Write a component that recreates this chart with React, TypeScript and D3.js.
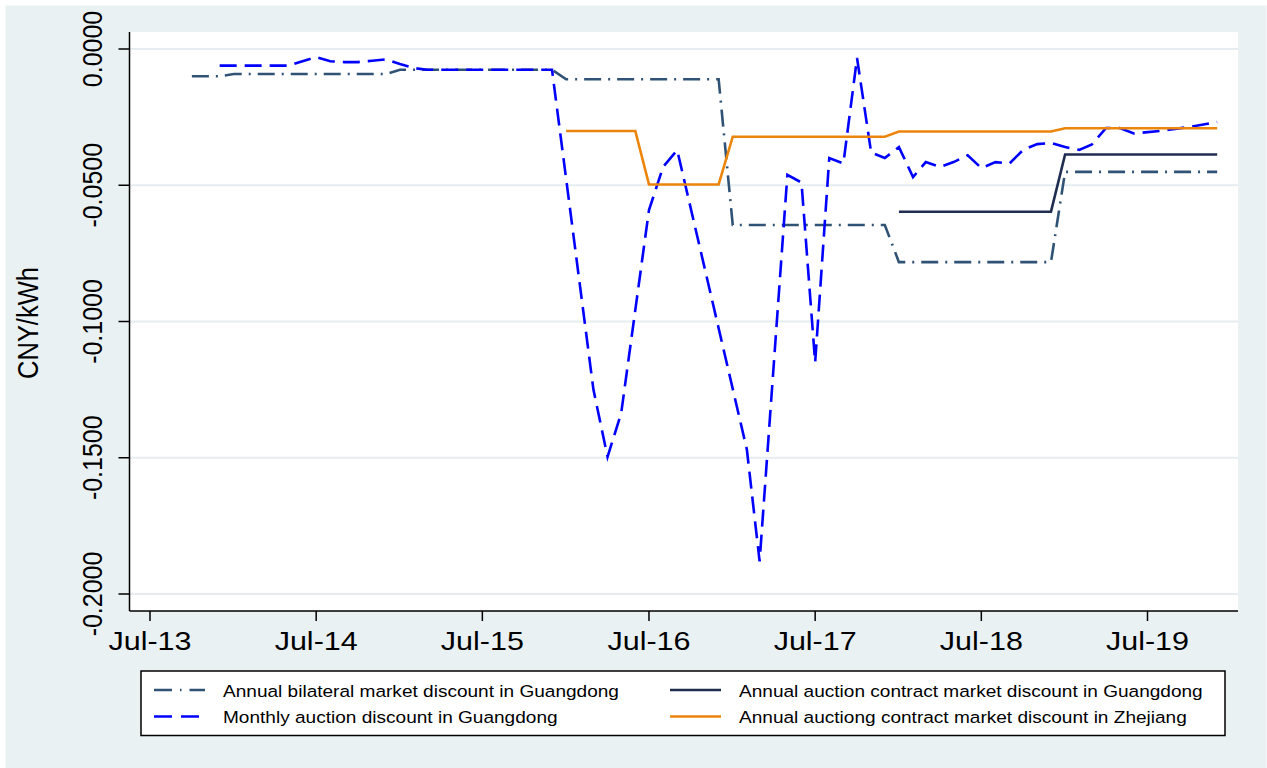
import React from "react";
import * as d3 from "d3";

// ---------- data ----------
const xTickDates = ["2013-07", "2014-07", "2015-07", "2016-07", "2017-07", "2018-07", "2019-07"];
const xTickLabels = ["Jul-13", "Jul-14", "Jul-15", "Jul-16", "Jul-17", "Jul-18", "Jul-19"];
const yTickValues = [0, -0.05, -0.1, -0.15, -0.2];
const yTickLabels = ["0.0000", "-0.0500", "-0.1000", "-0.1500", "-0.2000"];

// Annual bilateral market discount in Guangdong
const bilateralMonths = ["2013-10", "2013-12", "2014-01", "2014-12", "2015-01", "2015-12", "2016-01", "2016-12", "2017-01", "2017-12", "2018-01", "2018-12", "2019-01", "2019-12"];
const bilateralValues = [-0.0100, -0.0100, -0.0092, -0.0092, -0.0076, -0.0076, -0.0111, -0.0111, -0.0646, -0.0646, -0.0782, -0.0782, -0.0451, -0.0451];

// Monthly auction discount in Guangdong
const monthlyMonths = [
  "2013-12", "2014-05", "2014-06", "2014-07", "2014-08", "2014-09", "2014-10", "2014-11", "2014-12",
  "2015-01", "2015-02", "2015-03", "2015-12",
  "2016-03", "2016-04", "2016-05", "2016-07", "2016-08", "2016-09",
  "2017-02", "2017-03", "2017-05", "2017-06", "2017-07", "2017-08", "2017-09", "2017-10", "2017-11", "2017-12",
  "2018-01", "2018-02", "2018-03", "2018-04", "2018-05", "2018-06", "2018-07", "2018-08", "2018-09", "2018-10", "2018-11", "2018-12",
  "2019-01", "2019-02", "2019-03", "2019-04", "2019-05", "2019-06", "2019-08", "2019-10", "2019-12",
];
const monthlyValues = [
  -0.0061, -0.0061, -0.0045, -0.0030, -0.0045, -0.0048, -0.0048, -0.0043, -0.0038,
  -0.0055, -0.0070, -0.0076, -0.0076,
  -0.1250, -0.1497, -0.1336, -0.0591, -0.0433, -0.0371,
  -0.1470, -0.1880, -0.0462, -0.0490, -0.1150, -0.0400, -0.0420, -0.0033, -0.0380, -0.0400,
  -0.0360, -0.0470, -0.0415, -0.0433, -0.0415, -0.0390, -0.0437, -0.0415, -0.0420, -0.0370, -0.0349, -0.0345,
  -0.0360, -0.0370, -0.0350, -0.0290, -0.0290, -0.0310, -0.0300, -0.0286, -0.0268,
];

// Annual auction contract market discount in Guangdong
const gdAuctionMonths = ["2018-01", "2018-12", "2019-01", "2019-12"];
const gdAuctionValues = [-0.0597, -0.0597, -0.0387, -0.0387];

// Annual auctiong contract market discount in Zhejiang
const zjMonths = ["2016-01", "2016-06", "2016-07", "2016-12", "2017-01", "2017-12", "2018-01", "2018-12", "2019-01", "2019-12"];
const zjValues = [-0.0301, -0.0301, -0.0497, -0.0497, -0.0322, -0.0322, -0.0303, -0.0303, -0.0291, -0.0291];

const seriesNames = [
  "Annual bilateral market discount in Guangdong",
  "Annual auction contract market discount in Guangdong",
  "Monthly auction discount in Guangdong",
  "Annual auctiong contract market discount in Zhejiang",
];

// ---------- layout ----------
const W = 1267;
const H = 768;
const plot = { left: 129.5, right: 1238, top: 32, bottom: 611 };
const FONT = "'Liberation Sans', Arial, Helvetica, sans-serif";
const BG = "#eaf1f3";
const GRID = "#e5edf0";

const parseM = d3.timeParse("%Y-%m");

const x = d3.scaleTime()
  .domain([parseM("2013-07") as Date, parseM("2019-07") as Date])
  .range([150, 1147.5]);
const y = d3.scaleLinear().domain([-0.2, 0]).range([594, 49]);

type Pt = { d: Date; v: number };
const toPts = (ms: string[], vs: number[]): Pt[] => ms.map((m, i) => ({ d: parseM(m) as Date, v: vs[i] }));

const lineGen = d3.line<Pt>().x((p) => x(p.d)).y((p) => y(p.v));

const series = [
  { name: seriesNames[0], pts: toPts(bilateralMonths, bilateralValues), color: "#2f5275", dash: "17,7,2,7" },
  { name: seriesNames[1], pts: toPts(gdAuctionMonths, gdAuctionValues), color: "#1f2d50", dash: "" },
  { name: seriesNames[2], pts: toPts(monthlyMonths, monthlyValues), color: "#0000ff", dash: "17,8" },
  { name: seriesNames[3], pts: toPts(zjMonths, zjValues), color: "#ec850c", dash: "" },
];

export default function App() {
  const legendPos = [
    { sx: 154, tx: 223, ty: 690 },
    { sx: 670, tx: 739, ty: 690 },
    { sx: 154, tx: 223, ty: 716.5 },
    { sx: 670, tx: 739, ty: 716.5 },
  ];
  return (
    <svg width={W} height={H} style={{ position: "absolute", left: 0, top: 0 }} xmlns="http://www.w3.org/2000/svg">
      <rect x={0} y={0} width={W} height={H} fill="#ffffff" />
      <rect x={5.5} y={5.5} width={1261} height={763} fill={BG} />
      <rect x={plot.left} y={plot.top} width={plot.right - plot.left} height={plot.bottom - plot.top} fill="#ffffff" />

      {/* gridlines */}
      {yTickValues.map((v, i) => (
        <line key={"g" + i} x1={plot.left} x2={plot.right} y1={y(v)} y2={y(v)} stroke={GRID} strokeWidth={2} />
      ))}

      {/* series */}
      {series.map((s, i) => (
        <path key={"s" + i} d={lineGen(s.pts) || ""} fill="none" stroke={s.color} strokeWidth={2.6}
          strokeDasharray={s.dash || undefined} strokeLinejoin="miter" strokeLinecap="butt" />
      ))}

      {/* axes */}
      <line x1={plot.left} x2={plot.left} y1={plot.top} y2={plot.bottom} stroke="#000" strokeWidth={1.5} />
      <line x1={plot.left} x2={plot.right} y1={plot.bottom} y2={plot.bottom} stroke="#000" strokeWidth={1.5} />

      {yTickValues.map((v, i) => (
        <g key={"yt" + i}>
          <line x1={plot.left - 11} x2={plot.left} y1={y(v)} y2={y(v)} stroke="#000" strokeWidth={1.5} />
          <text transform={`translate(102,${y(v)}) scale(1.13,1) rotate(-90)`} textAnchor="middle"
            fontFamily={FONT} fontSize={25} fill="#000">{yTickLabels[i]}</text>
        </g>
      ))}

      {xTickDates.map((m, i) => {
        const xx = x(parseM(m) as Date);
        return (
          <g key={"xt" + i}>
            <line x1={xx} x2={xx} y1={plot.bottom} y2={plot.bottom + 10} stroke="#000" strokeWidth={1.5} />
            <text transform={`translate(${xx},650) scale(1.22,1)`} textAnchor="middle"
              fontFamily={FONT} fontSize={25} fill="#000">{xTickLabels[i]}</text>
          </g>
        );
      })}

      <text transform={`translate(37.5,323) scale(1.13,1) rotate(-90)`} textAnchor="middle"
        fontFamily={FONT} fontSize={25.5} fill="#000">CNY/kWh</text>

      {/* legend */}
      <rect x={141} y={671} width={1084} height={64.5} fill="#ffffff" stroke="#000" strokeWidth={1.5} />
      {series.map((s, i) => {
        const p = legendPos[i];
        return (
          <g key={"lg" + i}>
            <line x1={p.sx} x2={p.sx + 51} y1={p.ty} y2={p.ty} stroke={s.color} strokeWidth={2.6}
              strokeDasharray={s.dash ? (s.dash === "17,8" ? "18,9" : "18,8,1.5,8") : undefined} />
            <text transform={`translate(${p.tx},${p.ty + 6.5}) scale(1.155,1)`} fontFamily={FONT}
              fontSize={16.5} fill="#000">{s.name}</text>
          </g>
        );
      })}
    </svg>
  );
}
